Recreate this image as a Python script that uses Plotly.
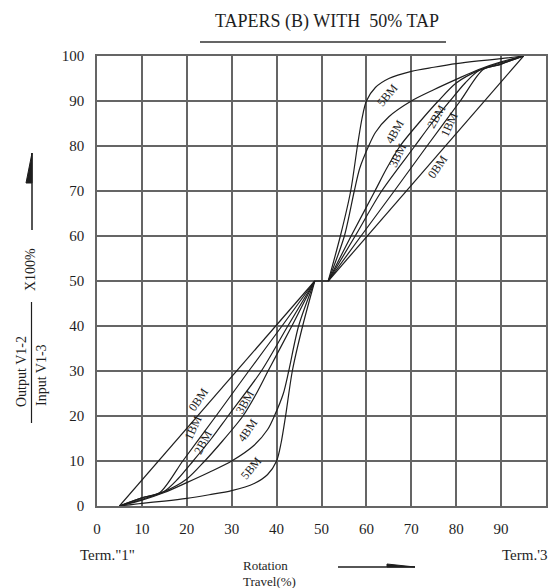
import plotly.graph_objects as go

# ---------------- data ----------------
# lower half of each taper (Term."1" to the 50% tap)
x_0bm_low = [5, 48.5]
y_0bm_low = [0, 50]
x_1bm_low = [5, 10, 14, 19.1, 26.5, 33.8, 41.2, 48.5]
y_1bm_low = [0, 1.8, 3, 10, 20, 30, 40, 50]
x_2bm_low = [5, 10, 15, 18, 21.4, 25.5, 29.2, 36.6, 42.5, 48.5]
y_2bm_low = [0, 1.8, 3.3, 6, 10, 15, 20, 30, 40, 50]
x_3bm_low = [5, 10, 15, 20, 24, 28, 32.5, 35.5, 38.1, 43.4, 48.5]
y_3bm_low = [0, 1.5, 3.2, 6, 10, 14.5, 20, 25, 30, 40, 50]
x_4bm_low = [5, 10, 15, 20, 25, 30, 35, 38, 39.5, 41.5, 42.7, 44.9, 48.5]
y_4bm_low = [0, 1.3, 3, 5.2, 7.5, 10, 13.5, 17, 20, 25, 30, 40, 50]
x_5bm_low = [5, 10, 15, 20, 25, 30, 35, 38, 40, 41, 42, 43.5, 45.8, 48.5]
y_5bm_low = [0, 0.6, 1.1, 1.7, 2.5, 3.4, 5, 7, 10, 14, 20, 30, 40, 50]

# upper half of each taper (50% tap to Term."3")
x_0bm_up = [51.5, 95]
y_0bm_up = [50, 100]
x_1bm_up = [51.5, 58.8, 66.2, 73.5, 80.9, 86, 90, 95]
y_1bm_up = [50, 60, 70, 80, 90, 97, 98.2, 100]
x_2bm_up = [51.5, 57.5, 63.4, 70.8, 74.5, 78.6, 82, 85, 90, 95]
y_2bm_up = [50, 60, 70, 80, 85, 90, 94, 96.7, 98.2, 100]
x_3bm_up = [51.5, 56.6, 61.9, 64.5, 67.5, 72, 76, 80, 85, 90, 95]
y_3bm_up = [50, 60, 70, 75, 80, 85.5, 90, 94, 96.8, 98.5, 100]
x_4bm_up = [51.5, 55.1, 57.3, 58.5, 60.5, 62, 65, 70, 75, 80, 85, 90, 95]
y_4bm_up = [50, 60, 70, 75, 80, 83, 86.5, 90, 92.5, 94.8, 97, 98.7, 100]
x_5bm_up = [51.5, 54.2, 56.5, 58, 59, 60, 62, 65, 70, 75, 80, 85, 90, 95]
y_5bm_up = [50, 60, 70, 80, 86, 90, 93, 95, 96.6, 97.5, 98.3, 98.9, 99.4, 100]

# the tap section joining the two halves
x_tap = [48.5, 51.5]
y_tap = [50, 50]

curve_names = ["0BM", "1BM", "2BM", "3BM", "4BM", "5BM"]
tick_vals = [0, 10, 20, 30, 40, 50, 60, 70, 80, 90, 100]
tick_text = ["0", "10", "20", "30", "40", "50", "60", "70", "80", "90", "100"]

lower_x = [x_0bm_low, x_1bm_low, x_2bm_low, x_3bm_low, x_4bm_low, x_5bm_low]
lower_y = [y_0bm_low, y_1bm_low, y_2bm_low, y_3bm_low, y_4bm_low, y_5bm_low]
upper_x = [x_0bm_up, x_1bm_up, x_2bm_up, x_3bm_up, x_4bm_up, x_5bm_up]
upper_y = [y_0bm_up, y_1bm_up, y_2bm_up, y_3bm_up, y_4bm_up, y_5bm_up]

SERIF = "Liberation Serif"
INK = "#1e1e1e"
GRID = "#656565"

fig = go.Figure()
for name, xs, ys in zip(curve_names, lower_x, lower_y):
    fig.add_trace(go.Scatter(x=xs, y=ys, mode="lines", name=name,
                             line=dict(color=INK, width=1.2, shape="spline", smoothing=0.8),
                             hoverinfo="skip"))
for name, xs, ys in zip(curve_names, upper_x, upper_y):
    fig.add_trace(go.Scatter(x=xs, y=ys, mode="lines", name=name,
                             line=dict(color=INK, width=1.2, shape="spline", smoothing=0.8),
                             hoverinfo="skip"))
fig.add_trace(go.Scatter(x=x_tap, y=y_tap, mode="lines", line=dict(color=INK, width=1.2),
                         hoverinfo="skip"))

# curve labels, written along the curves
lower_labels = [(22.5, 23.6, -55), (21.4, 17.3, -65), (23.6, 14.3, -62),
                (32.9, 23.2, -60), (33.6, 16.9, -55), (34.4, 8.4, -50)]
upper_labels = [(75.8, 75.4, -55), (78.4, 84.7, -65), (75.5, 86.5, -60),
                (67.0, 78.0, -65), (66.2, 83.2, -60), (64.7, 91.3, -50)]
for name, (lx, ly, ang) in zip(curve_names, lower_labels):
    fig.add_annotation(x=lx, y=ly, text=name, showarrow=False, textangle=ang,
                       xanchor="center", yanchor="middle",
                       font=dict(family=SERIF, size=12, color=INK))
for name, (lx, ly, ang) in zip(curve_names, upper_labels):
    fig.add_annotation(x=lx, y=ly, text=name, showarrow=False, textangle=ang,
                       xanchor="center", yanchor="middle",
                       font=dict(family=SERIF, size=12, color=INK))

axis_common = dict(range=[0, 100], tickmode="array", tickvals=tick_vals, ticktext=tick_text,
                   showgrid=True, gridcolor=GRID, gridwidth=1.7, zeroline=False,
                   showline=True, mirror=True, linecolor=GRID, linewidth=1.7,
                   ticks="", ticklabelstandoff=8,
                   tickfont=dict(family=SERIF, size=15, color=INK), fixedrange=True)
fig.update_xaxes(**axis_common)
fig.update_yaxes(**axis_common)

# the page has an 8 px body margin, so the figure is sized and offset to compensate
PAGE_OFF = 8
W, H = 557 - PAGE_OFF, 588 - PAGE_OFF
L, R, T, B = 97 - PAGE_OFF, 11, 56 - PAGE_OFF, 82
pw, ph = W - L - R, H - T - B


def px(x):
    # page pixel -> paper x
    return (x - PAGE_OFF - L) / pw


def py(y):
    # page pixel -> paper y
    return (PAGE_OFF + H - B - y) / ph


# title and its rule
fig.add_annotation(xref="paper", yref="paper", x=px(326.5), y=py(21.5), text="TAPERS (B) WITH  50% TAP",
                   showarrow=False, xanchor="center", yanchor="middle",
                   font=dict(family=SERIF, size=18, color=INK))
shapes = [
    dict(type="line", xref="paper", yref="paper", x0=px(200), x1=px(446), y0=py(42), y1=py(42),
         line=dict(color=GRID, width=2)),
    # vertical arrow beside the y label
    dict(type="line", xref="paper", yref="paper", x0=px(32), x1=px(32), y0=py(153), y1=py(230),
         line=dict(color=INK, width=1.5)),
    dict(type="path", xref="paper", yref="paper",
         path=f"M {px(32)} {py(153)} L {px(26)} {py(183)} L {px(32)} {py(183)} Z",
         fillcolor=INK, line=dict(color=INK, width=1)),
    # fraction bar
    dict(type="line", xref="paper", yref="paper", x0=px(31.5), x1=px(31.5), y0=py(302), y1=py(423),
         line=dict(color=INK, width=1.2)),
    # arrow next to "Rotation Travel"
    dict(type="line", xref="paper", yref="paper", x0=px(338), x1=px(415), y0=py(567), y1=py(567),
         line=dict(color=INK, width=1.3)),
    dict(type="path", xref="paper", yref="paper",
         path=f"M {px(387)} {py(564)} L {px(415)} {py(567)} L {px(387)} {py(567)} Z",
         fillcolor=INK, line=dict(color=INK, width=1)),
]
fig.update_layout(shapes=shapes)

side_font = dict(family=SERIF, size=14, color=INK)
fig.add_annotation(xref="paper", yref="paper", x=px(30), y=py(270), text="X100%", textangle=-90,
                   showarrow=False, xanchor="center", yanchor="middle", font=side_font)
fig.add_annotation(xref="paper", yref="paper", x=px(21), y=py(372), text="Output V1-2", textangle=-90,
                   showarrow=False, xanchor="center", yanchor="middle", font=side_font)
fig.add_annotation(xref="paper", yref="paper", x=px(41), y=py(375), text="Input V1-3", textangle=-90,
                   showarrow=False, xanchor="center", yanchor="middle", font=side_font)

bottom_font = dict(family=SERIF, size=15, color=INK)
fig.add_annotation(xref="paper", yref="paper", x=px(78), y=py(555), text="Term.\"1\"",
                   showarrow=False, xanchor="left", yanchor="middle", font=bottom_font)
fig.add_annotation(xref="paper", yref="paper", x=px(549), y=py(555), text="Term.'3",
                   showarrow=False, xanchor="right", yanchor="middle", font=bottom_font)
small_bottom = dict(family=SERIF, size=13, color=INK)
fig.add_annotation(xref="paper", yref="paper", x=px(242), y=py(565), text="Rotation",
                   showarrow=False, xanchor="left", yanchor="middle", borderpad=0, font=small_bottom)
fig.add_annotation(xref="paper", yref="paper", x=px(242), y=py(581), text="Travel(%)",
                   showarrow=False, xanchor="left", yanchor="middle", borderpad=0, font=small_bottom)

fig.update_layout(width=W, height=H, margin=dict(l=L, r=R, t=T, b=B, autoexpand=False),
                  paper_bgcolor="white", plot_bgcolor="white", showlegend=False)

fig.write_html("out.html")
